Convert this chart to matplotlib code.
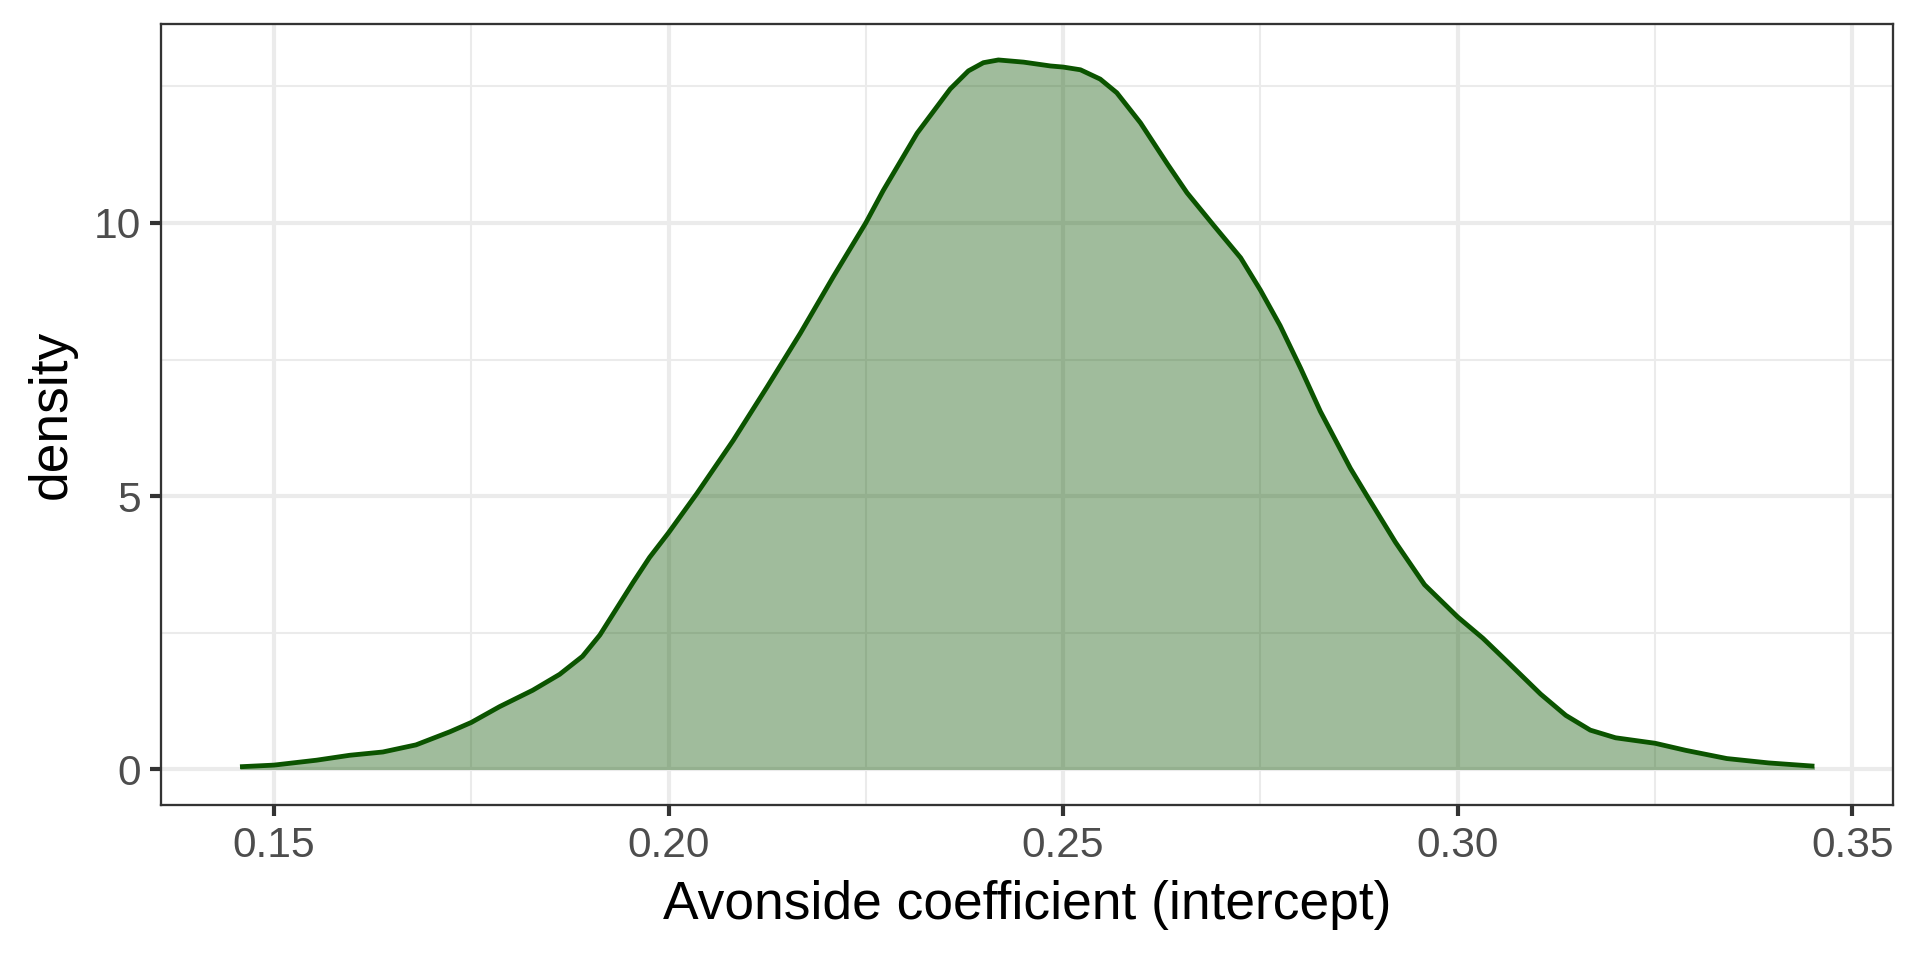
# density of the Avonside intercept, ggplot theme_bw look
import matplotlib.pyplot as plt
from matplotlib.ticker import MultipleLocator

# values
coef = [0.1457, 0.150, 0.1554, 0.1596, 0.1638, 0.168, 0.1723, 0.175, 0.1786,
        0.1828, 0.1862, 0.1891, 0.1913, 0.1934, 0.1955, 0.1976, 0.200, 0.2036,
        0.2082, 0.2125, 0.2167, 0.2209, 0.225, 0.2272, 0.2315, 0.2357, 0.2380,
        0.2399, 0.2418, 0.2450, 0.2484, 0.2500, 0.2522, 0.2547, 0.2568, 0.2598,
        0.2632, 0.2657, 0.2691, 0.2725, 0.275, 0.2775, 0.2801, 0.2826, 0.2864,
        0.2887, 0.2921, 0.2958, 0.300, 0.3032, 0.3063, 0.3105, 0.3137, 0.3168,
        0.320, 0.325, 0.3289, 0.3341, 0.3394, 0.3452]
density = [0.05, 0.08, 0.17, 0.26, 0.32, 0.45, 0.69, 0.86, 1.15,
           1.45, 1.74, 2.07, 2.46, 2.94, 3.42, 3.88, 4.33, 5.05,
           6.02, 7.00, 7.98, 9.02, 10.0, 10.59, 11.64, 12.45, 12.78,
           12.93, 12.98, 12.94, 12.87, 12.85, 12.80, 12.63, 12.38, 11.83,
           11.08, 10.55, 9.95, 9.36, 8.77, 8.12, 7.34, 6.55, 5.51,
           4.96, 4.16, 3.38, 2.79, 2.40, 1.97, 1.38, 0.99, 0.72,
           0.58, 0.48, 0.35, 0.20, 0.12, 0.06]

x_ticks = [0.15, 0.20, 0.25, 0.30, 0.35]
y_ticks = [0, 5, 10]

green = '#0b5400'

plt.rcParams['font.family'] = ['Liberation Sans', 'DejaVu Sans']

fig = plt.figure(figsize=(6.4, 3.2), dpi=300)
ax = fig.add_axes([0.084, 0.1615, 0.902, 0.813])

ax.fill_between(coef, 0, density, color=green, alpha=0.39, lw=0, zorder=3)
ax.plot(coef, density, color=green, lw=1.15, solid_capstyle='butt',
        solid_joinstyle='round', zorder=4)

span = max(coef) - min(coef)
ax.set_xlim(min(coef) - 0.05 * span, max(coef) + 0.05 * span)
top = max(density)
ax.set_ylim(-0.05 * top, 1.05 * top)

ax.set_xticks(x_ticks)
ax.set_xticklabels(['%.2f' % v for v in x_ticks])
ax.set_yticks(y_ticks)
ax.xaxis.set_minor_locator(MultipleLocator(0.025))
ax.yaxis.set_minor_locator(MultipleLocator(2.5))

ax.grid(which='major', color='#ebebeb', lw=1.0, zorder=0)
ax.grid(which='minor', color='#ebebeb', lw=0.5, zorder=0)
ax.set_axisbelow(True)

for s in ax.spines.values():
    s.set_color('#333333')
    s.set_linewidth(0.55)

ax.tick_params(which='major', length=2.75, width=1.0, color='#333333',
               labelcolor='#4d4d4d', labelsize=10.2, pad=2.2)
ax.tick_params(which='minor', length=0)

ax.set_xlabel('Avonside coefficient (intercept)', fontsize=12.8, labelpad=3.5)
ax.set_ylabel('density', fontsize=12.8, labelpad=4)

fig.savefig('out.png', dpi=300)
